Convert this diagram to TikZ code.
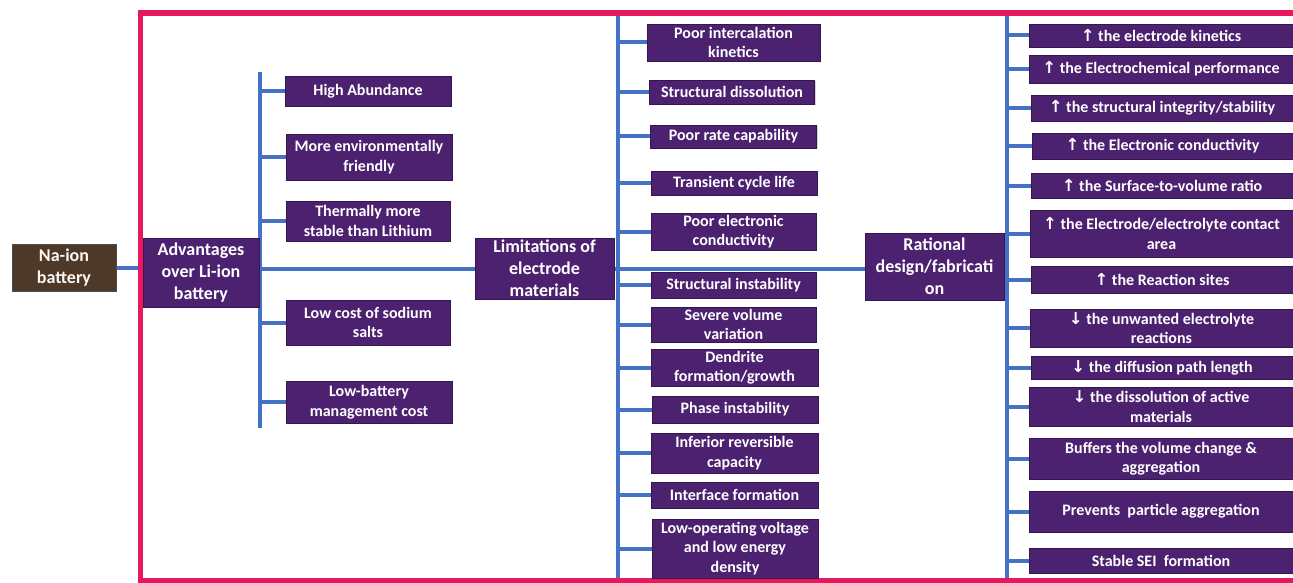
\documentclass[tikz,border=0pt]{standalone}
\usepackage{fontspec}
\setmainfont{Carlito}
\newfontfamily\arw{DejaVu Sans}
\usetikzlibrary{shadows}
\definecolor{pinkf}{HTML}{E8185E}
\definecolor{bluel}{HTML}{4472C4}
\definecolor{purp}{HTML}{4C216F}
\definecolor{purpd}{HTML}{35164F}
\definecolor{woodb}{HTML}{4E3828}
\newcommand{\upa}{{\arw\fontsize{16.5}{16}\selectfont ↑}}
\newcommand{\dna}{{\arw\fontsize{16.5}{16}\selectfont ↓}}
\pgfdeclarelayer{bg}
\pgfsetlayers{bg,main}
\begin{document}
\begin{tikzpicture}[x=1pt,y=-1pt,
  box/.style={draw=purpd, fill=purp, text=white, align=center, inner sep=0pt, line width=0.6pt,
    drop shadow={shadow xshift=1.3pt,shadow yshift=-1.3pt,opacity=0.35}},
  leaf/.style={box, font=\bfseries\fontsize{16}{19.5}\selectfont},
  mid/.style={box, font=\bfseries\fontsize{18}{22}\selectfont},
  conn/.style={draw=bluel, line width=4pt},
  frame/.style={draw=pinkf, line width=5.5pt}
]
\useasboundingbox (0,0) rectangle (1293,583);

% root and main nodes
\node[mid, fill=woodb, draw=black!70, text=white!94!brown, minimum width=104pt, minimum height=47pt] (na) at (64,267.5) {Na-ion\\battery};
\node[mid, minimum width=116pt, minimum height=69pt] (adv) at (201,272.5) {Advantages\\over Li-ion\\battery};
\node[mid, minimum width=139pt, minimum height=61pt] (lim) at (544.5,268.5) {Limitations of\\electrode\\materials};
\node[mid, minimum width=139pt, minimum height=67pt] (rat) at (934.5,266.5) {Rational\\design/fabricati\\on};

% advantages
\node[leaf, minimum width=166pt, minimum height=30pt] (a1) at (368,91) {High Abundance};
\node[leaf, minimum width=166pt, minimum height=46pt] (a2) at (369,157) {More environmentally\\friendly};
\node[leaf, minimum width=164pt, minimum height=40pt] (a3) at (368,221) {Thermally more\\stable than Lithium};
\node[leaf, minimum width=164pt, minimum height=45pt] (a4) at (368,322.5) {Low cost of sodium\\salts};
\node[leaf, minimum width=166pt, minimum height=42pt] (a5) at (369,402) {Low-battery\\management cost};

% limitations
\node[leaf, minimum width=173pt, minimum height=37pt] (l1) at (733.5,42.5) {Poor intercalation\\kinetics};
\node[leaf, minimum width=165pt, minimum height=24pt] (l2) at (732,92) {Structural dissolution};
\node[leaf, minimum width=166pt, minimum height=23pt] (l3) at (733.5,136.5) {Poor rate capability};
\node[leaf, minimum width=166pt, minimum height=24pt] (l4) at (734,183) {Transient cycle life};
\node[leaf, minimum width=165pt, minimum height=37pt] (l5) at (733.5,231.5) {Poor electronic\\conductivity};
\node[leaf, minimum width=165pt, minimum height=26pt] (l6) at (733.5,285) {Structural instability};
\node[leaf, minimum width=165pt, minimum height=35pt] (l7) at (733.5,324.5) {Severe volume\\variation};
\node[leaf, minimum width=167pt, minimum height=37pt] (l8) at (734.5,367.5) {Dendrite\\formation/growth};
\node[leaf, minimum width=166pt, minimum height=27pt] (l9) at (735,409.5) {Phase instability};
\node[leaf, minimum width=167pt, minimum height=40pt] (l10) at (734.5,453) {Inferior reversible\\capacity};
\node[leaf, minimum width=167pt, minimum height=26pt] (l11) at (734.5,495) {Interface formation};
\node[leaf, minimum width=166pt, minimum height=59pt] (l12) at (735,548.5) {Low-operating voltage\\and low energy\\density};

% rational design
\node[leaf, minimum width=264pt, minimum height=23pt] (r1) at (1161,35.5) {\upa{} the electrode kinetics};
\node[leaf, minimum width=264pt, minimum height=28pt] (r2) at (1161,69) {\upa{} the Electrochemical performance};
\node[leaf, minimum width=262pt, minimum height=26pt] (r3) at (1162,108) {\upa{} the structural integrity/stability};
\node[leaf, minimum width=261pt, minimum height=26pt] (r4) at (1162.5,146) {\upa{} the Electronic conductivity};
\node[leaf, minimum width=262pt, minimum height=25pt] (r5) at (1162,185.5) {\upa{} the Surface-to-volume ratio};
\node[leaf, minimum width=263pt, minimum height=47pt] (r6) at (1161.5,233.5) {\upa{} the Electrode/electrolyte contact\\area};
\node[leaf, minimum width=262pt, minimum height=27pt] (r7) at (1162,279.5) {\upa{} the Reaction sites};
\node[leaf, minimum width=263pt, minimum height=38pt] (r8) at (1161.5,328) {\dna{} the unwanted electrolyte\\reactions};
\node[leaf, minimum width=262pt, minimum height=23pt] (r9) at (1162,367.5) {\dna{} the diffusion path length};
\node[leaf, minimum width=264pt, minimum height=39pt] (r10) at (1161,406.5) {\dna{} the dissolution of active\\materials};
\node[leaf, minimum width=264pt, minimum height=41pt] (r11) at (1161,458.5) {Buffers the volume change \&\\aggregation};
\node[leaf, minimum width=264pt, minimum height=41pt] (r12) at (1161,511.5) {Prevents~ particle aggregation};
\node[leaf, minimum width=264pt, minimum height=25pt] (r13) at (1161,560.5) {Stable SEI~ formation};

% bus coordinates
\coordinate (advtop) at (260,72);
\coordinate (advbot) at (260,428);
\coordinate (limtop) at (618,14);
\coordinate (limbot) at (618,580);
\coordinate (rattop) at (1007,14);
\coordinate (ratbot) at (1007,580);
\coordinate (fnw) at (140.5,13);
\coordinate (fne) at (1300,13);
\coordinate (fsw) at (140.5,580.5);
\coordinate (fse) at (1300,580.5);

\begin{pgfonlayer}{bg}
  \draw[conn] (na.east) -- (adv.west |- na.east);
  \draw[conn] (adv.east |- lim.west) -- (lim.west);
  \draw[conn] (lim.east) -- (rat.west |- lim.east);
  \draw[conn] (advtop) -- (advbot);
  \draw[conn] (limtop) -- (limbot);
  \draw[conn] (rattop) -- (ratbot);
  \foreach \n in {a1,a2,a3,a4,a5}
    \draw[conn] (\n.west -| advtop) -- (\n.west);
  \foreach \n in {l1,l2,l3,l4,l5,l6,l7,l8,l9,l10,l11,l12}
    \draw[conn] (\n.west -| limtop) -- (\n.west);
  \foreach \n in {r1,r2,r3,r4,r5,r6,r7,r8,r9,r10,r11,r12,r13}
    \draw[conn] (\n.west -| rattop) -- (\n.west);
  \draw[frame] (fne) -- (fnw) -- (fsw) -- (fse);
\end{pgfonlayer}
\end{tikzpicture}
\end{document}
